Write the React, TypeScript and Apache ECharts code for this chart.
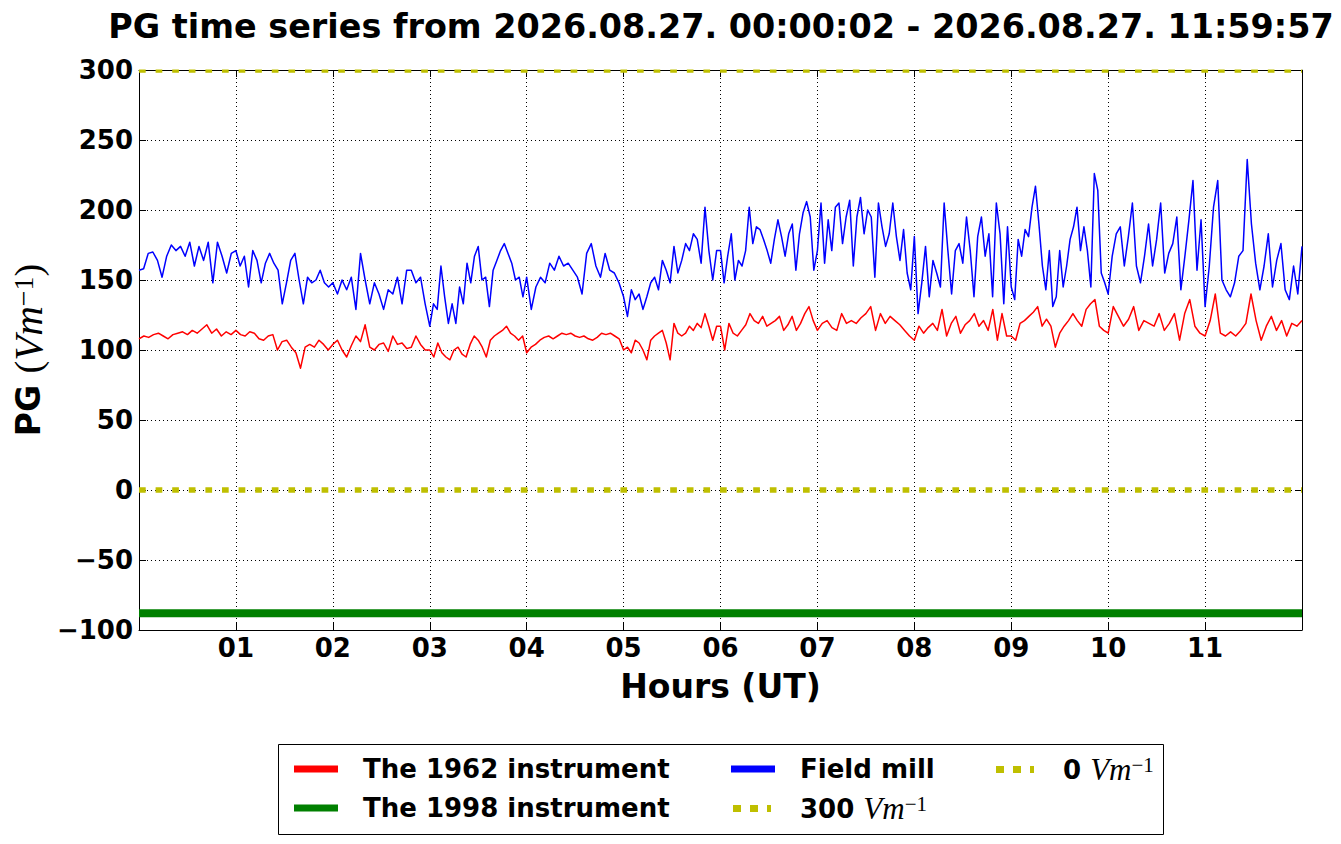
import React, { useEffect, useRef } from "react";
import * as echarts from "echarts";

// ---------------- data ----------------
const titleText = "PG time series from 2026.08.27. 00:00:02 - 2026.08.27. 11:59:57";
const hourLabels = ["", "01", "02", "03", "04", "05", "06", "07", "08", "09", "10", "11", ""];
const seriesNames = ["The 1962 instrument", "The 1998 instrument", "Field mill", "300 Vm-1", "0 Vm-1"];
const hourRange = [0, 12];
const instrument1998Level = -88;
const referenceLevels = [300, 0];

// Field mill, readings per hour (evenly spread within each hour)
const fieldMill: number[][] = [
  [157, 158, 169, 170, 164, 152, 167, 175, 171, 174, 167, 177, 160, 174, 164, 177, 148, 177, 167, 155, 169],
  [171, 160, 167, 145, 171, 164, 148, 162, 169, 162, 157, 133, 148, 164, 169, 150, 133, 152, 148, 150, 157, 148, 145],
  [148, 140, 150, 143, 152, 129, 169, 150, 133, 148, 140, 129, 143, 140, 152, 133, 157, 157, 148, 152, 133],
  [117, 133, 129, 160, 138, 119, 133, 119, 145, 133, 162, 148, 167, 174, 150, 152, 131, 157, 164, 171, 176, 169, 162, 150, 152, 138],
  [152, 129, 145, 152, 148, 162, 157, 167, 160, 162, 157, 152, 140, 169, 176, 160, 152, 169, 157, 155, 148],
  [138, 124, 143, 136, 140, 129, 138, 148, 152, 143, 164, 157, 148, 174, 155, 164, 176, 171, 183, 179, 162, 202, 171, 150, 171],
  [171, 148, 167, 183, 150, 164, 160, 171, 202, 176, 188, 186, 179, 171, 162, 179, 193, 181, 167, 183, 190, 157, 183, 198, 206, 195, 157],
  [171, 205, 162, 193, 171, 202, 205, 176, 195, 207, 160, 195, 209, 183, 200, 195, 152, 205, 188, 174, 183, 205, 181, 164, 186, 155, 143],
  [181, 126, 148, 174, 138, 164, 155, 145, 205, 171, 140, 171, 176, 162, 195, 171, 138, 181, 195, 167, 183, 138, 205, 183, 133, 188],
  [145, 136, 179, 167, 186, 181, 202, 217, 190, 160, 143, 171, 131, 138, 171, 145, 160, 179, 188, 202, 171, 188, 171, 145, 226, 214, 155, 148],
  [140, 167, 183, 188, 160, 181, 205, 160, 148, 167, 190, 160, 179, 205, 155, 169, 176, 195, 143, 167, 193, 221, 157, 193],
  [131, 160, 202, 221, 150, 143, 138, 148, 167, 171, 236, 190, 162, 143, 160, 183, 145, 164, 176, 143, 136, 160, 140, 174],
];

// The 1962 instrument, readings per hour
const instrument1962: number[][] = [
  [108, 110, 109, 111, 112, 110, 108, 111, 112, 113, 111, 114, 112, 115, 118, 112, 115, 110, 113, 111],
  [114, 111, 110, 113, 112, 108, 107, 110, 111, 100, 106, 107, 102, 98, 87, 102, 104, 102, 107, 104, 100],
  [104, 107, 100, 95, 103, 110, 106, 118, 102, 100, 104, 105, 99, 110, 104, 105, 101, 102, 110, 104, 100],
  [100, 95, 105, 98, 95, 93, 100, 102, 97, 95, 104, 110, 107, 102, 95, 107, 110, 112, 114, 117, 112, 110, 107, 110],
  [98, 102, 104, 107, 109, 110, 108, 110, 112, 111, 112, 110, 109, 110, 108, 107, 109, 112, 111, 112, 110, 108],
  [100, 102, 98, 107, 105, 100, 93, 107, 110, 112, 114, 105, 93, 119, 112, 110, 112, 117, 114, 119, 116, 126, 117, 107, 117],
  [117, 100, 119, 112, 110, 114, 118, 126, 121, 119, 124, 117, 119, 121, 124, 114, 118, 124, 114, 119, 126, 131, 121],
  [114, 119, 121, 116, 114, 126, 119, 121, 119, 123, 126, 131, 114, 126, 119, 124, 121, 118, 114, 110],
  [107, 117, 112, 116, 119, 114, 129, 110, 119, 124, 112, 118, 121, 126, 117, 121, 114, 129, 107, 126, 110],
  [110, 107, 119, 121, 124, 127, 131, 117, 122, 117, 102, 112, 117, 121, 126, 121, 117, 129, 133, 136, 117, 114],
  [112, 131, 124, 117, 122, 131, 114, 121, 119, 117, 126, 114, 119, 126, 107, 126, 136, 117, 112],
  [110, 121, 140, 112, 110, 113, 110, 114, 119, 140, 121, 107, 117, 124, 114, 121, 110, 119, 117, 121],
];

// ---------------- helpers ----------------
function hourly(rows: number[][]): number[][] {
  const pts: number[][] = [];
  rows.forEach((vals, h) => {
    const last = h === rows.length - 1;
    const step = 1 / (last ? vals.length - 1 : vals.length);
    vals.forEach((v, i) => pts.push([h + i * step, v]));
  });
  return pts;
}

const RED = "#ff0000";
const GREEN = "#008000";
const BLUE = "#0000ff";
const OLIVE = "#bfbf00";
const SANS = "DejaVu Sans";
const SERIF = "Liberation Serif";
const DOTS =
  "path://M0,0L0,7 M2,0L10,0L10,7L2,7Z M19,0L27,0L27,7L19,7Z M36,0L40,0L40,7L36,7Z M44,0L44,7";

const legendLabels: Record<string, string> = {
  [seriesNames[0]]: "{sp| }{b|The 1962 instrument}",
  [seriesNames[1]]: "{sp| }{b|The 1998 instrument}",
  [seriesNames[2]]: "{sp| }{b|Field mill}",
  [seriesNames[3]]: "{sp| }{b|300 }{i|Vm}{s|\u22121}",
  [seriesNames[4]]: "{sp| }{b|0 }{i|Vm}{s|\u22121}",
};

const legendRich = {
  sp: { width: 20, fontSize: 26, lineHeight: 30 },
  b: { fontFamily: SANS, fontWeight: "bold", fontSize: 26, lineHeight: 30, color: "#000" },
  i: { fontFamily: SERIF, fontStyle: "italic", fontWeight: "normal", fontSize: 31, lineHeight: 30, color: "#000" },
  s: { fontFamily: SERIF, fontWeight: "normal", fontSize: 21, lineHeight: 19, verticalAlign: "top", color: "#000" },
};

function makeLegend(left: number, data: any[]) {
  return {
    orient: "vertical",
    left,
    top: 754,
    padding: 0,
    itemWidth: 44,
    itemHeight: 7,
    itemGap: 9,
    selectedMode: false,
    itemStyle: { borderWidth: 0 },
    textStyle: { color: "#000", fontFamily: SANS, fontWeight: "bold", fontSize: 26, lineHeight: 30, rich: legendRich },
    formatter: (name: string) => legendLabels[name] ?? name,
    data,
  };
}

const tickLabelStyle = { color: "#000", fontFamily: SANS, fontWeight: "bold", fontSize: 26 };
const axisLineStyle = { color: "#000", width: 1 };

function lineSeries(name: string, data: number[][], color: string, width: number, type: any = "solid", z = 2) {
  return {
    name,
    type: "line",
    data,
    color,
    itemStyle: { color },
    showSymbol: false,
    symbol: "none",
    silent: true,
    z,
    lineStyle: { color, width, type, cap: "butt", join: "round" },
  };
}

export default function App() {
  const ref = useRef<HTMLDivElement>(null);
  useEffect(() => {
    if (!ref.current) return;
    const chart = echarts.init(ref.current, undefined, { renderer: "svg" });
    const [x0, x1] = hourRange;
    const option: any = {
      animation: false,
      backgroundColor: "#fff",
      grid: { left: 139, top: 70, width: 1163, height: 560, containLabel: false, outerBoundsMode: "none" },
      xAxis: [
        {
          type: "value",
          min: x0,
          max: x1,
          interval: 1,
          position: "bottom",
          axisLine: { show: true, onZero: false, lineStyle: axisLineStyle },
          axisTick: { show: true, inside: true, length: 7, lineStyle: axisLineStyle },
          axisLabel: { show: true, margin: 5, formatter: (v: number) => hourLabels[Math.round(v)] ?? "", ...tickLabelStyle },
          splitLine: { show: true, lineStyle: { color: "#000", width: 1, type: [1, 3] } },
          name: "Hours (UT)",
          nameLocation: "middle",
          nameGap: 40,
          nameMoveOverlap: false,
          nameTextStyle: { color: "#000", fontFamily: SANS, fontWeight: "bold", fontSize: 33 },
        },
        {
          type: "value",
          min: x0,
          max: x1,
          interval: 1,
          position: "top",
          axisLine: { show: true, onZero: false, lineStyle: axisLineStyle },
          axisTick: { show: true, inside: true, length: 7, lineStyle: axisLineStyle },
          axisLabel: { show: false },
          splitLine: { show: false },
        },
      ],
      yAxis: [
        {
          type: "value",
          min: -100,
          max: 300,
          interval: 50,
          position: "left",
          axisLine: { show: true, onZero: false, lineStyle: axisLineStyle },
          axisTick: { show: true, inside: true, length: 7, lineStyle: axisLineStyle },
          axisLabel: { show: true, margin: 6, formatter: (v: number) => String(v).replace("-", "\u2212"), ...tickLabelStyle },
          splitLine: { show: true, lineStyle: { color: "#000", width: 1, type: [1, 3] } },
          name: "{b|PG }{p|(}{i|Vm}{s|\u22121}{p|)}",
          nameLocation: "middle",
          nameRotate: 90,
          nameGap: 92,
          nameMoveOverlap: false,
          nameTextStyle: {
            color: "#000",
            fontWeight: "normal",
            rich: {
              b: { fontFamily: SANS, fontWeight: "bold", fontSize: 33, lineHeight: 38, color: "#000" },
              p: { fontFamily: SERIF, fontWeight: "normal", fontSize: 38, lineHeight: 38, color: "#000" },
              i: { fontFamily: SERIF, fontStyle: "italic", fontWeight: "normal", fontSize: 41, lineHeight: 38, color: "#000" },
              s: { fontFamily: SERIF, fontWeight: "normal", fontSize: 28, lineHeight: 24, verticalAlign: "top", color: "#000" },
            },
          },
        },
        {
          type: "value",
          min: -100,
          max: 300,
          interval: 50,
          position: "right",
          axisLine: { show: true, onZero: false, lineStyle: axisLineStyle },
          axisTick: { show: true, inside: true, length: 7, lineStyle: axisLineStyle },
          axisLabel: { show: false },
          splitLine: { show: false },
        },
      ],
      legend: [
        makeLegend(294, [
          { name: seriesNames[0], icon: "rect" },
          { name: seriesNames[1], icon: "rect" },
        ]),
        makeLegend(731, [
          { name: seriesNames[2], icon: "rect" },
          { name: seriesNames[3], icon: DOTS },
        ]),
        makeLegend(994, [{ name: seriesNames[4], icon: DOTS }]),
      ],
      graphic: [
        {
          type: "text",
          x: 721,
          y: 26,
          z: 10,
          silent: true,
          style: {
            text: titleText,
            fill: "#000",
            font: `bold 33.4px "${SANS}"`,
            align: "center",
            verticalAlign: "middle",
            textAlign: "center",
            textVerticalAlign: "middle",
          },
        },
        {
          type: "rect",
          z: 100,
          silent: true,
          shape: { x: 136, y: 60, width: 1170, height: 9.5 },
          style: { fill: "#fff" },
        },
        {
          type: "rect",
          z: 1,
          silent: true,
          shape: { x: 278.5, y: 744.5, width: 885, height: 90 },
          style: { fill: "#fff", stroke: "#000", lineWidth: 1 },
        },
      ],
      series: [
        lineSeries(seriesNames[0], hourly(instrument1962), RED, 1.5),
        lineSeries(seriesNames[1], [[x0, instrument1998Level], [x1, instrument1998Level]], GREEN, 8),
        lineSeries(seriesNames[2], hourly(fieldMill), BLUE, 1.5),
        lineSeries(seriesNames[3], [[x0, referenceLevels[0]], [x1, referenceLevels[0]]], OLIVE, 5.5, [6.7, 9.9], 3),
        lineSeries(seriesNames[4], [[x0, referenceLevels[1]], [x1, referenceLevels[1]]], OLIVE, 5.5, [6.7, 9.9], 3),
      ],
    };
    chart.setOption(option);
    return () => chart.dispose();
  }, []);
  return (
    <div
      ref={ref}
      style={{ position: "absolute", left: 0, top: 0, width: 1341, height: 844, background: "#fff" }}
    />
  );
}
